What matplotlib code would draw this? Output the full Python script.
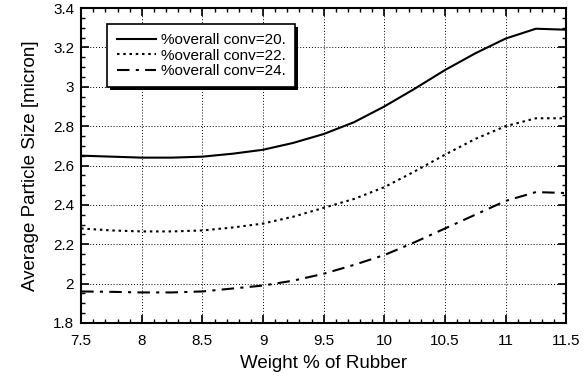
import matplotlib
matplotlib.use("Agg")
import matplotlib.pyplot as plt
import matplotlib.ticker as mticker
from matplotlib.patches import Rectangle

rubber = [7.5, 7.75, 8.0, 8.25, 8.5, 8.75, 9.0, 9.25, 9.5, 9.75,
          10.0, 10.25, 10.5, 10.75, 11.0, 11.25, 11.5]
conv20 = [2.65, 2.645, 2.64, 2.64, 2.645, 2.66, 2.68, 2.715, 2.76, 2.82,
          2.90, 2.99, 3.085, 3.17, 3.245, 3.295, 3.29]
conv22 = [2.28, 2.27, 2.265, 2.265, 2.27, 2.285, 2.305, 2.34, 2.385, 2.43,
          2.49, 2.57, 2.655, 2.735, 2.80, 2.84, 2.84]
conv24 = [1.96, 1.958, 1.955, 1.955, 1.96, 1.975, 1.99, 2.015, 2.05, 2.095,
          2.145, 2.21, 2.28, 2.35, 2.42, 2.465, 2.46]
labels = ["%overall conv=20.", "%overall conv=22.", "%overall conv=24."]

plt.rcParams['font.family'] = ['Liberation Sans', 'DejaVu Sans']

fig = plt.figure(figsize=(5.88, 3.84), dpi=100)
ax = fig.add_axes([0.138, 0.159, 0.825, 0.82])

ax.plot(rubber, conv20, color='black', lw=1.5, ls='-', label=labels[0])
ax.plot(rubber, conv22, color='black', lw=1.5, ls=(0, (1.2, 1.8)), label=labels[1])
ax.plot(rubber, conv24, color='black', lw=1.5, ls=(0, (6, 3, 1.5, 3)), label=labels[2])

ax.set_xlim(7.5, 11.5)
ax.set_ylim(1.8, 3.4)
ax.xaxis.set_major_locator(mticker.MultipleLocator(0.5))
ax.xaxis.set_minor_locator(mticker.MultipleLocator(0.1))
ax.yaxis.set_major_locator(mticker.MultipleLocator(0.2))
ax.yaxis.set_minor_locator(mticker.MultipleLocator(0.05))
ax.xaxis.set_major_formatter(mticker.FormatStrFormatter('%g'))
ax.yaxis.set_major_formatter(mticker.FormatStrFormatter('%g'))
ax.tick_params(which='both', direction='in', top=True, right=True, labelsize=11)
ax.tick_params(which='major', length=6, width=1.2)
ax.tick_params(axis='x', which='major', pad=8)
ax.tick_params(axis='y', which='major', pad=5)
ax.tick_params(which='minor', length=3, width=1)
ax.grid(True, which='major', color='black', ls=(0, (1, 2)), lw=0.7)
for s in ax.spines.values():
    s.set_linewidth(1.5)

ax.set_xlabel("Weight % of Rubber", fontsize=13.5, labelpad=5)
ax.set_ylabel("Average Particle Size [micron]", fontsize=13.5, labelpad=10)

# legend box with drop shadow
leg = ax.legend(loc='upper left', bbox_to_anchor=(0.054, 0.95), fontsize=11,
                frameon=True, fancybox=False, shadow=False, handlelength=2.6,
                handletextpad=0.3, labelspacing=0.1, borderpad=0.6,
                borderaxespad=0, framealpha=1)
leg.get_frame().set_edgecolor('black')
leg.get_frame().set_facecolor('white')
leg.get_frame().set_linewidth(1.2)
leg.set_zorder(5)
fig.canvas.draw()
bb = leg.get_window_extent().transformed(ax.transAxes.inverted())
ax.add_patch(Rectangle((bb.x0 + 0.006, bb.y0 - 0.01), bb.width, bb.height,
                       transform=ax.transAxes, facecolor='black', edgecolor='none',
                       zorder=4))

fig.savefig("out.png", dpi=100)
